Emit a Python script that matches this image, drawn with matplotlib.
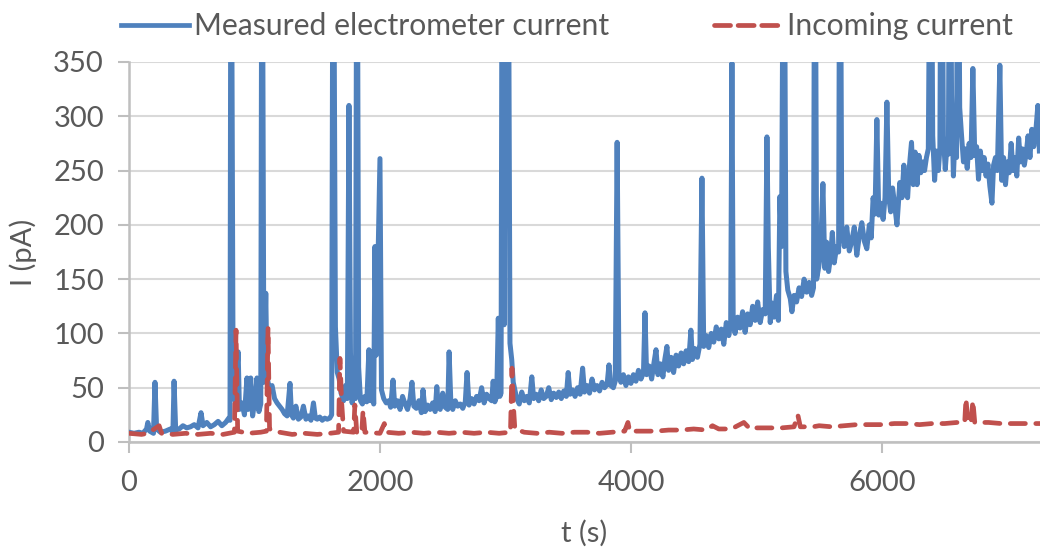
import matplotlib
matplotlib.use("Agg")
import matplotlib.pyplot as plt
from matplotlib.lines import Line2D

plt.rcParams['font.family'] = ['Lato', 'DejaVu Sans']

# measured electrometer current (pA) vs time (s)
t_meas = [0, 40, 80, 110, 140, 150, 165, 195, 207, 220, 250, 290, 330, 350, 359, 372,
          400, 430, 460, 490, 520, 550, 574, 590, 620, 650, 680, 710, 740, 770, 795, 805,
          813, 830, 845, 870, 880, 900, 920, 940, 950, 970, 985, 1005, 1020, 1035, 1050,
          1060, 1075, 1090, 1100, 1120, 1140, 1160, 1180, 1200, 1220, 1240, 1260, 1283,
          1295, 1310, 1330, 1350, 1370, 1390, 1410, 1430, 1450, 1470, 1485, 1500, 1520,
          1540, 1560, 1580, 1600, 1615,
          1627, 1645, 1660, 1675, 1690, 1710, 1725, 1740, 1753, 1765, 1778, 1790, 1805,
          1817, 1830, 1845, 1860, 1880, 1895, 1912, 1925, 1940, 1950, 1960, 1970, 2000,
          2012, 2030, 2050, 2070, 2085, 2104, 2118, 2140, 2160, 2180, 2200, 2220, 2240,
          2255, 2270, 2290, 2310, 2330, 2343, 2360, 2380, 2400, 2420, 2440, 2453, 2465,
          2480, 2500, 2520, 2540, 2551, 2565, 2580, 2600, 2620, 2640, 2660, 2680, 2694,
          2710, 2730, 2750, 2770, 2790, 2810, 2830, 2850, 2870, 2890, 2902, 2915, 2930,
          2943, 2955, 2965, 2975, 2990, 3005, 3020, 3036, 3050, 3062, 3075, 3090, 3110,
          3130, 3150, 3170, 3190, 3210, 3225, 3245, 3265, 3285, 3305, 3325, 3345, 3365,
          3385, 3405, 3425, 3445, 3465, 3485, 3500, 3515, 3535, 3555, 3575, 3595, 3615,
          3630, 3650, 3670, 3690, 3710, 3730, 3750, 3770, 3790, 3810, 3825, 3840, 3860,
          3875, 3890, 3905, 3920, 3940, 3960, 3980, 4000, 4020, 4040, 4060, 4080, 4100,
          4112, 4125, 4145, 4165, 4185, 4200, 4215, 4235, 4255, 4270, 4287, 4300, 4320,
          4340, 4360, 4380, 4400, 4420, 4440, 4460, 4478, 4490, 4510, 4530, 4550, 4566,
          4580, 4600, 4620, 4640, 4660, 4680, 4700, 4720, 4740, 4760, 4780, 4795, 4805,
          4815, 4830, 4850, 4870, 4890, 4910, 4930, 4950, 4970, 4990, 5010, 5030, 5050,
          5070, 5084, 5095, 5110, 5125, 5140, 5160, 5175, 5187, 5200, 5219, 5235, 5250,
          5270, 5283, 5300, 5320, 5340, 5360, 5380, 5400, 5420, 5440, 5455, 5466, 5480,
          5495, 5510, 5530, 5545, 5560, 5575, 5590, 5605, 5620, 5640, 5655, 5666, 5680,
          5700, 5720, 5740, 5760, 5780, 5800, 5820, 5840, 5860, 5880, 5900, 5915, 5930,
          5945, 5960, 5975, 5990, 6010, 6025, 6040, 6055, 6070, 6085, 6100, 6120, 6143,
          6160, 6175, 6190, 6205, 6220, 6236, 6250, 6265, 6280, 6295, 6310, 6325, 6340,
          6355, 6370, 6390, 6405, 6420, 6435, 6450, 6462, 6475, 6490, 6505, 6520, 6530,
          6542, 6555, 6570, 6585, 6595, 6606, 6620, 6635, 6650, 6665, 6680, 6695, 6710,
          6725, 6740, 6755, 6770, 6785, 6800, 6815, 6830, 6845, 6860, 6877, 6890, 6905,
          6920, 6940, 6955, 6970, 6985, 7000, 7015, 7030, 7045, 7060, 7075, 7090, 7105,
          7120, 7135, 7150, 7165, 7180, 7195, 7210, 7225, 7243, 7255]
i_meas = [9, 8, 9, 8, 12, 18, 10, 8, 55, 12, 9, 10, 12, 9, 56, 11,
          12, 15, 13, 14, 16, 13, 27, 15, 18, 14, 16, 19, 15, 18, 22, 20,
          600, 45, 38, 83, 30, 36, 25, 59, 30, 59, 24, 40, 59, 28, 35,
          600, 55, 137, 60, 48, 52, 40, 36, 33, 30, 26, 24, 54,
          25, 22, 33, 21, 23, 33, 21, 24, 20, 36, 22, 21, 23,
          20, 22, 21, 22, 25,
          600, 106, 64, 58, 45, 38, 52, 40, 310, 82, 36, 50, 40,
          600, 69, 38, 35, 42, 37, 85, 38, 83, 35, 180, 80, 261,
          48, 40, 36, 38, 32, 57, 33, 38, 30, 42, 35, 30, 40,
          55, 33, 31, 38, 27, 48, 28, 34, 30, 36, 28, 51, 33,
          30, 45, 32, 30, 83, 36, 30, 38, 33, 35, 31, 37, 64,
          34, 40, 35, 42, 38, 50, 36, 44, 40, 38, 56, 37, 42,
          114, 42, 45, 600, 108, 600, 600, 91, 76, 55, 48, 40, 35,
          46, 38, 42, 36, 60, 40, 44, 38, 48, 40, 42, 50, 39,
          45, 41, 46, 40, 47, 42, 64, 44, 48, 42, 50, 44, 68,
          46, 52, 45, 58, 48, 52, 47, 55, 50, 53, 71, 52, 50,
          56, 276, 60, 55, 62, 52, 60, 54, 62, 56, 66, 58, 64,
          119, 62, 70, 58, 74, 85, 62, 72, 60, 76, 88, 66, 78,
          64, 80, 70, 82, 72, 84, 74, 103, 76, 86, 78, 90, 243,
          88, 98, 87, 100, 92, 106, 95, 104, 90, 110, 98, 110, 349,
          110, 100, 115, 105, 120, 101, 118, 108, 125, 112, 129, 110, 122,
          118, 281, 179, 110, 128, 115, 135, 112, 226, 180, 600, 157, 140,
          132, 120, 135, 129, 142, 134, 150, 138, 147, 135, 142, 600, 150,
          160, 172, 238, 160, 184, 157, 170, 193, 165, 180, 175, 600, 195,
          180, 198, 176, 185, 198, 172, 190, 202, 185, 178, 200, 188, 225,
          210, 297, 209, 220, 205, 225, 313, 225, 212, 234, 220, 200, 239,
          225, 255, 230, 225, 255, 276, 237, 267, 237, 264, 248, 258, 250,
          262, 270, 600, 282, 241, 268, 250, 270, 600, 282, 251, 275, 265,
          600, 320, 245, 290, 262, 600, 308, 282, 258, 270, 252, 275, 262,
          344, 264, 272, 242, 268, 250, 262, 245, 256, 236, 220, 255, 262,
          250, 347, 241, 262, 237, 258, 248, 275, 250, 262, 245, 280, 258,
          270, 255, 266, 282, 262, 288, 272, 284, 310, 268]

# incoming current (pA)
t_in = [0, 100, 150, 240, 260, 350, 450, 550, 650, 750, 840, 853, 866, 950, 1050, 1095,
        1108, 1120, 1200, 1300, 1400, 1500, 1600, 1670, 1681, 1695, 1710, 1790, 1800,
        1815, 1855, 1865, 1880, 2000, 2035, 2050, 2150, 2250, 2350, 2450, 2550, 2650,
        2750, 2850, 2950, 3040, 3052, 3062, 3075, 3150, 3250, 3350, 3450, 3550, 3650,
        3750, 3850, 3950, 3976, 3990, 4100, 4200, 4300, 4400, 4500, 4600, 4650, 4700,
        4800, 4900, 4950, 5000, 5100, 5200, 5300, 5330, 5350, 5450, 5500, 5600, 5700,
        5800, 5900, 6000, 6100, 6200, 6300, 6400, 6500, 6600, 6660, 6670, 6685, 6710,
        6725, 6740, 6850, 6950, 7050, 7150, 7260]
i_in = [8, 7, 8, 15, 8, 7, 8, 7, 8, 7, 9, 103, 10, 8, 9, 10,
        105, 12, 9, 7, 8, 7, 8, 9, 77, 36, 10, 9, 34,
        9, 8, 29, 9, 8, 17, 9, 8, 9, 8, 9, 8, 9,
        8, 9, 8, 9, 68, 36, 12, 9, 8, 9, 8, 9, 9,
        8, 9, 10, 18, 10, 10, 10, 11, 11, 12, 11, 15, 12,
        12, 18, 12, 13, 13, 13, 14, 25, 14, 14, 15, 14, 15,
        16, 16, 16, 17, 17, 16, 17, 17, 18, 18, 40, 18, 18,
        38, 18, 18, 17, 17, 17, 17]

blue = '#4F81BD'
red = '#C0504D'
text_col = '#595959'
axis_col = '#BFBFBF'
grid_col = '#D9D9D9'

fig = plt.figure(figsize=(10.4, 5.47), dpi=100)
ax = fig.add_axes([129 / 1040, (547 - 442) / 547, 1 - 129 / 1040, 380 / 547])

ax.plot(t_meas, i_meas, color=blue, lw=3.6, solid_joinstyle='round', zorder=3)
ax.plot(t_in, i_in, color=red, lw=3.4, dashes=(3.2, 2.2), dash_capstyle='round',
        zorder=4)

ax.set_xlim(0, 7260)
ax.set_ylim(0, 350)
ax.set_xticks([0, 2000, 4000, 6000])
ax.set_yticks(range(0, 351, 50))
ax.grid(axis='y', color=grid_col, lw=1.5, zorder=0)
ax.set_axisbelow(True)

for side in ['top', 'right']:
    ax.spines[side].set_visible(False)
for side in ['left', 'bottom']:
    ax.spines[side].set_color(axis_col)
    ax.spines[side].set_linewidth(1.8)
ax.tick_params(colors=axis_col, width=1.5, length=8, labelsize=21,
               labelcolor=text_col)
ax.tick_params(axis='y', pad=10)
ax.tick_params(axis='x', pad=12)

ax.set_xlabel('t (s)', fontsize=21, color=text_col, labelpad=17)
ax.set_ylabel('I (pA)', fontsize=21, color=text_col, labelpad=12)

handles = [Line2D([], [], color=blue, lw=3.4),
           Line2D([], [], color=red, lw=3.4, dashes=(3.4, 1.6), dash_capstyle='round')]
fig.legend(handles, ['Measured electrometer current', 'Incoming current'],
           loc='center', bbox_to_anchor=(0.545, 0.952), ncol=2, frameon=False,
           fontsize=21.7, labelcolor=text_col, handlelength=2.25, handletextpad=0.15,
           columnspacing=3.5)

fig.savefig('out.png', dpi=100)
